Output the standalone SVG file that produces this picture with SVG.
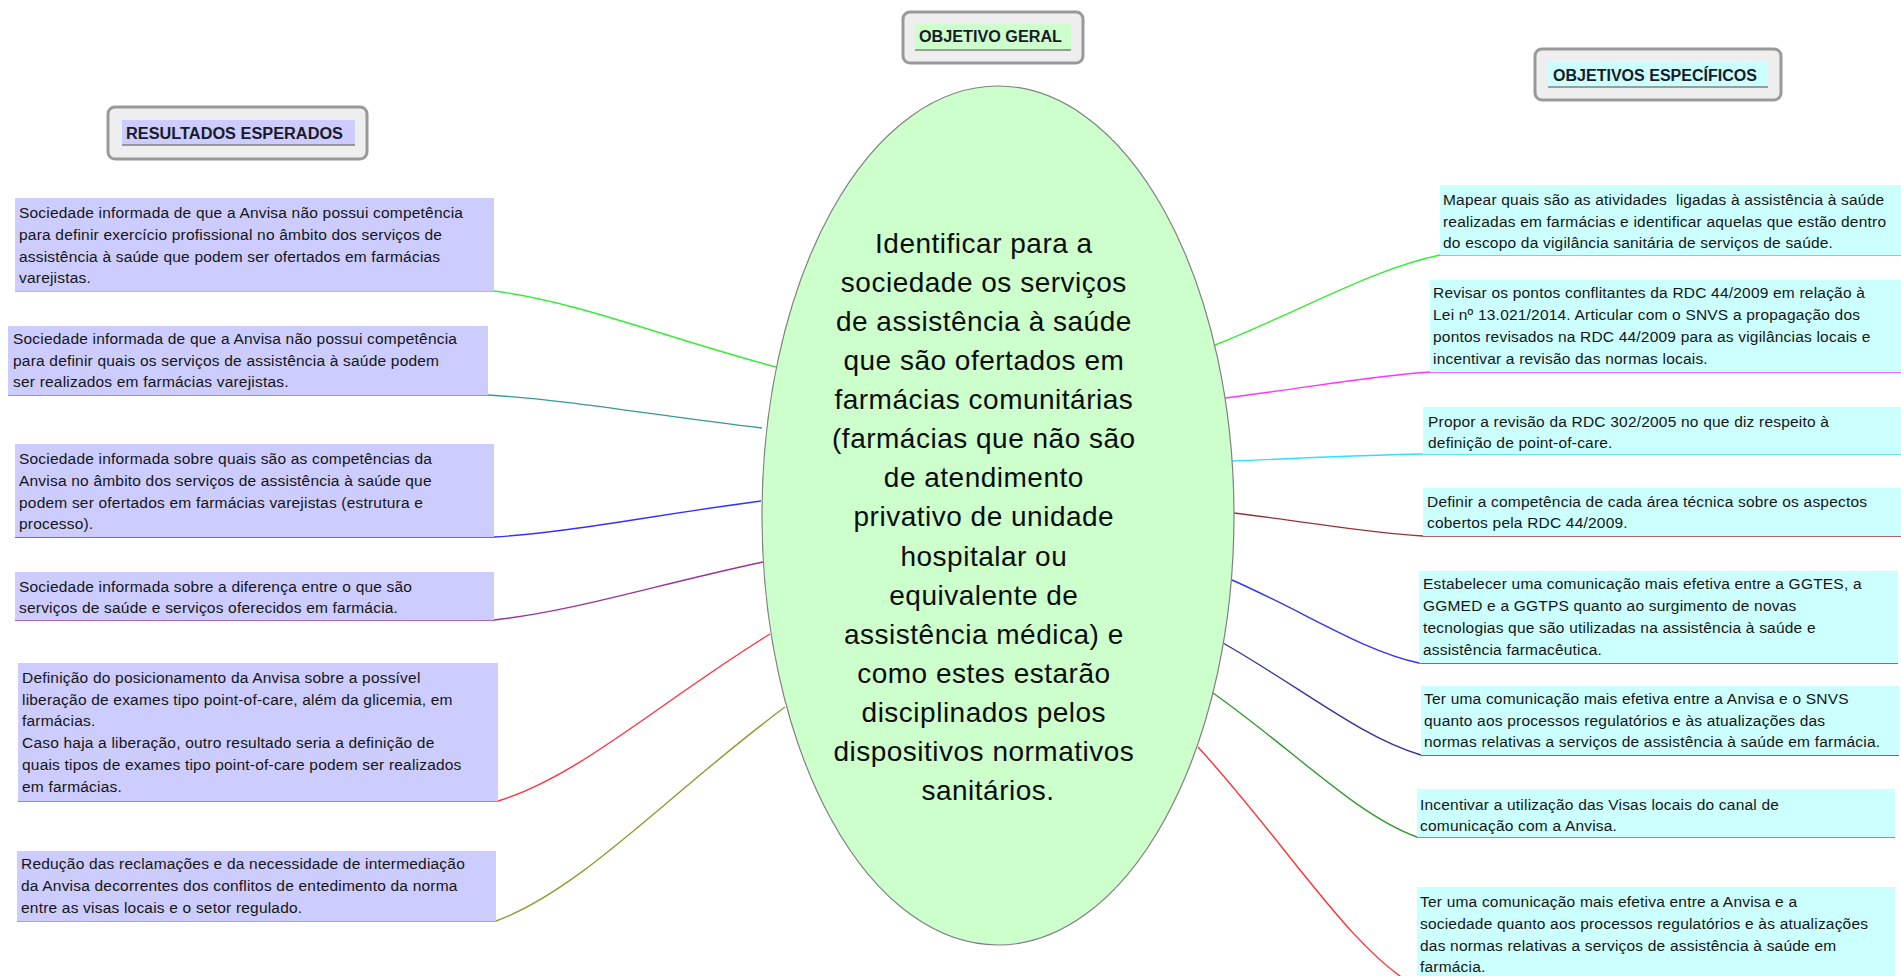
<svg xmlns="http://www.w3.org/2000/svg" width="1901" height="976" viewBox="0 0 1901 976">
<style>
.t{font-family:"Liberation Sans",Arial,sans-serif;font-size:15.5px;fill:#151515;letter-spacing:0.2px}
.c{font-family:"Liberation Sans",Arial,sans-serif;font-size:28px;fill:#0d0d0d;letter-spacing:0.5px;text-anchor:middle}
.h{font-family:"Liberation Sans",Arial,sans-serif;font-size:16px;font-weight:bold;fill:#1a1a2a}
.hb{fill:#eeeeee;stroke:#999999;stroke-width:3}
.ul{stroke:#808080;stroke-width:1.5}
.l{fill:#ccccff}
.r{fill:#ccffff}
.e{fill:none;stroke-width:1.4}
</style>
<rect width="1901" height="976" fill="#ffffff"/>

<g id="connectors">
<path class="e" stroke="#33ee33" d="M776,367 C663,337 579,302 494,291 L15,291"/>
<path class="e" stroke="#339999" d="M762,428 C652,415 570,400 488,395 L8,395"/>
<path class="e" stroke="#3333ff" d="M761,501 C654,515 574,532 494,537 L15,537"/>
<path class="e" stroke="#993399" d="M763,562 C655,585 575,611 494,620 L15,620"/>
<path class="e" stroke="#ff3344" d="M770,634 C661,701 580,776 498,801 L18,801"/>
<path class="e" stroke="#999933" d="M785,707 C669,793 583,889 496,921 L17,921"/>

<path class="e" stroke="#33ee33" d="M1215,345 C1305,309 1373,269 1440,255 L1901,255"/>
<path class="e" stroke="#ff33ff" d="M1225,398 C1307,388 1369,376 1430,372 L1901,372"/>
<path class="e" stroke="#33ddff" d="M1232,461 C1308,458 1366,455 1423,454 L1901,454"/>
<path class="e" stroke="#993333" d="M1234,513 C1310,522 1366,533 1423,536 L1901,536"/>
<path class="e" stroke="#3333ff" d="M1232,580 C1307,613 1363,651 1419,663 L1898,663"/>
<path class="e" stroke="#333399" d="M1223,643 C1302,688 1362,738 1421,755 L1899,755"/>
<path class="e" stroke="#339933" d="M1213,693 C1295,751 1356,815 1417,837 L1895,837"/>
<path class="e" stroke="#ff3333" d="M1198,747 C1286,843 1351,951 1417,987"/>
</g>

<g id="central">
<ellipse cx="998" cy="515.5" rx="236" ry="429.5" fill="#ccffcc" stroke="#808080" stroke-width="1.2"/>
<text class="c" x="988" y="253">
<tspan x="988" y="253">Identificar para a</tspan>
<tspan x="988" y="292">sociedade os serviços</tspan>
<tspan x="988" y="331">de assistência à saúde</tspan>
<tspan x="988" y="370">que são ofertados em</tspan>
<tspan x="988" y="409">farmácias comunitárias</tspan>
<tspan x="988" y="448">(farmácias que não são</tspan>
<tspan x="988" y="487">de atendimento</tspan>
<tspan x="988" y="526">privativo de unidade</tspan>
<tspan x="988" y="566">hospitalar ou</tspan>
<tspan x="988" y="605">equivalente de</tspan>
<tspan x="988" y="644">assistência médica) e</tspan>
<tspan x="988" y="683">como estes estarão</tspan>
<tspan x="988" y="722">disciplinados pelos</tspan>
<tspan x="988" y="761">dispositivos normativos</tspan>
<tspan x="988" y="800">sanitários.</tspan>
</text>
</g>

<g id="hdr-objetivo-geral">
<rect class="hb" x="903" y="12" width="180" height="51" rx="7"/>
<rect x="915" y="24" width="156" height="26" fill="#ccffcc"/>
<line class="ul" x1="915" y1="50" x2="1071" y2="50"/>
<text class="h" x="919" y="42" textLength="143" lengthAdjust="spacingAndGlyphs">OBJETIVO GERAL</text>
</g>

<g id="hdr-objetivos-especificos">
<rect class="hb" x="1535" y="49" width="246" height="51" rx="7"/>
<rect x="1548" y="62" width="220" height="25" fill="#ccffff"/>
<line class="ul" x1="1548" y1="87" x2="1768" y2="87"/>
<text class="h" x="1553" y="81" textLength="204" lengthAdjust="spacingAndGlyphs">OBJETIVOS ESPECÍFICOS</text>
</g>

<g id="hdr-resultados-esperados">
<rect class="hb" x="108" y="107" width="259" height="52" rx="7"/>
<rect x="122" y="120" width="233" height="25" fill="#ccccff"/>
<line class="ul" x1="122" y1="145" x2="355" y2="145"/>
<text class="h" x="126" y="139" textLength="217" lengthAdjust="spacingAndGlyphs">RESULTADOS ESPERADOS</text>
</g>

<g id="res1">
<rect class="l" x="15" y="198" width="479" height="93"/>
<text class="t"><tspan x="19" y="218">Sociedade informada de que a Anvisa não possui competência</tspan><tspan x="19" y="240">para definir exercício profissional no âmbito dos serviços de</tspan><tspan x="19" y="262">assistência à saúde que podem ser ofertados em farmácias</tspan><tspan x="19" y="283">varejistas.</tspan></text>
</g>
<g id="res2">
<rect class="l" x="8" y="326" width="480" height="69"/>
<text class="t"><tspan x="13" y="344">Sociedade informada de que a Anvisa não possui competência</tspan><tspan x="13" y="366">para definir quais os serviços de assistência à saúde podem</tspan><tspan x="13" y="387">ser realizados em farmácias varejistas.</tspan></text>
</g>
<g id="res3">
<rect class="l" x="15" y="444" width="479" height="93"/>
<text class="t"><tspan x="19" y="464">Sociedade informada sobre quais são as competências da</tspan><tspan x="19" y="486">Anvisa no âmbito dos serviços de assistência à saúde que</tspan><tspan x="19" y="508">podem ser ofertados em farmácias varejistas (estrutura e</tspan><tspan x="19" y="529">processo).</tspan></text>
</g>
<g id="res4">
<rect class="l" x="15" y="572" width="479" height="48"/>
<text class="t"><tspan x="19" y="592">Sociedade informada sobre a diferença entre o que são</tspan><tspan x="19" y="613">serviços de saúde e serviços oferecidos em farmácia.</tspan></text>
</g>
<g id="res5">
<rect class="l" x="18" y="663" width="480" height="138"/>
<text class="t"><tspan x="22" y="683">Definição do posicionamento da Anvisa sobre a possível</tspan><tspan x="22" y="705">liberação de exames tipo point-of-care, além da glicemia, em</tspan><tspan x="22" y="726">farmácias.</tspan><tspan x="22" y="748">Caso haja a liberação, outro resultado seria a definição de</tspan><tspan x="22" y="770">quais tipos de exames tipo point-of-care podem ser realizados</tspan><tspan x="22" y="792">em farmácias.</tspan></text>
</g>
<g id="res6">
<rect class="l" x="17" y="851" width="479" height="70"/>
<text class="t"><tspan x="21" y="869">Redução das reclamações e da necessidade de intermediação</tspan><tspan x="21" y="891">da Anvisa decorrentes dos conflitos de entedimento da norma</tspan><tspan x="21" y="913">entre as visas locais e o setor regulado.</tspan></text>
</g>

<g id="obj1">
<rect class="r" x="1440" y="185" width="461" height="70"/>
<text class="t"><tspan x="1443" y="205">Mapear quais são as atividades&#160; ligadas à assistência à saúde</tspan><tspan x="1443" y="227">realizadas em farmácias e identificar aquelas que estão dentro</tspan><tspan x="1443" y="248">do escopo da vigilância sanitária de serviços de saúde.</tspan></text>
</g>
<g id="obj2">
<rect class="r" x="1430" y="280" width="471" height="92"/>
<text class="t"><tspan x="1433" y="298">Revisar os pontos conflitantes da RDC 44/2009 em relação à</tspan><tspan x="1433" y="320">Lei nº 13.021/2014. Articular com o SNVS a propagação dos</tspan><tspan x="1433" y="342">pontos revisados na RDC 44/2009 para as vigilâncias locais e</tspan><tspan x="1433" y="364">incentivar a revisão das normas locais.</tspan></text>
</g>
<g id="obj3">
<rect class="r" x="1423" y="407" width="478" height="47"/>
<text class="t"><tspan x="1428" y="427">Propor a revisão da RDC 302/2005 no que diz respeito à</tspan><tspan x="1428" y="448">definição de point-of-care.</tspan></text>
</g>
<g id="obj4">
<rect class="r" x="1423" y="488" width="478" height="48"/>
<text class="t"><tspan x="1427" y="507">Definir a competência de cada área técnica sobre os aspectos</tspan><tspan x="1427" y="528">cobertos pela RDC 44/2009.</tspan></text>
</g>
<g id="obj5">
<rect class="r" x="1419" y="571" width="479" height="92"/>
<text class="t"><tspan x="1423" y="589">Estabelecer uma comunicação mais efetiva entre a GGTES, a</tspan><tspan x="1423" y="611">GGMED e a GGTPS quanto ao surgimento de novas</tspan><tspan x="1423" y="633">tecnologias que são utilizadas na assistência à saúde e</tspan><tspan x="1423" y="655">assistência farmacêutica.</tspan></text>
</g>
<g id="obj6">
<rect class="r" x="1421" y="686" width="478" height="69"/>
<text class="t"><tspan x="1424" y="704">Ter uma comunicação mais efetiva entre a Anvisa e o SNVS</tspan><tspan x="1424" y="726">quanto aos processos regulatórios e às atualizações das</tspan><tspan x="1424" y="747">normas relativas a serviços de assistência à saúde em farmácia.</tspan></text>
</g>
<g id="obj7">
<rect class="r" x="1417" y="789" width="478" height="48"/>
<text class="t"><tspan x="1420" y="810">Incentivar a utilização das Visas locais do canal de</tspan><tspan x="1420" y="831">comunicação com a Anvisa.</tspan></text>
</g>
<g id="obj8">
<rect class="r" x="1417" y="887" width="478" height="100"/>
<text class="t"><tspan x="1420" y="907">Ter uma comunicação mais efetiva entre a Anvisa e a</tspan><tspan x="1420" y="929">sociedade quanto aos processos regulatórios e às atualizações</tspan><tspan x="1420" y="951">das normas relativas a serviços de assistência à saúde em</tspan><tspan x="1420" y="972">farmácia.</tspan></text>
</g>
</svg>
